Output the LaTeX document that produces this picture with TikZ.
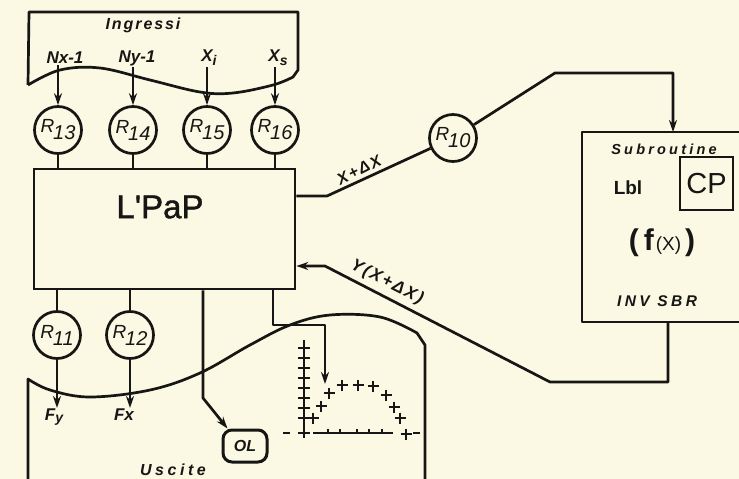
\documentclass[tikz,border=0pt]{standalone}
\usepackage{fontspec}
\setmainfont{Liberation Sans}
\newfontfamily\lsA[LetterSpace=12]{Liberation Sans}
\newfontfamily\lsB[LetterSpace=22]{Liberation Sans}
\newfontfamily\lsC[LetterSpace=12]{Liberation Sans}
\newfontfamily\semib[FakeBold=1.2]{Liberation Sans}
\usetikzlibrary{arrows.meta}
\definecolor{paper}{RGB}{251,248,227}
\definecolor{ink}{RGB}{22,22,20}
\newcommand\regtxt[1]{{\fontsize{19}{19}\selectfont\itshape R}\kern-1pt\raisebox{-7pt}{\fontsize{20}{20}\selectfont\itshape #1}}
\begin{document}
\begin{tikzpicture}[x=1pt,y=-1pt,color=ink,
 ln/.style={draw=ink,line width=2.7pt,line join=round},
 arr/.style={ln,-{Stealth[length=12pt,width=8pt]}},
 reg/.style={circle,draw=ink,line width=2.7pt,minimum size=47pt,inner sep=0pt},
 cross/.style={draw=ink,line width=1.4pt},
 lab/.style={inner sep=1pt,font=\bfseries\itshape\fontsize{17}{17}\selectfont},
 title/.style={inner sep=1pt,font=\lsB\bfseries\itshape\fontsize{15}{15}\selectfont},
]
\useasboundingbox[fill=paper] (0,0) rectangle (739,479);

% Ingressi
\draw[ln] (28,85) -- (29,12) -- (298,12) -- (298,70) -- plot[smooth,tension=0.6] coordinates {(293,77) (273,85) (233,93) (200,92) (150,80) (100,68) (60,70) (28,85)};
\node[inner sep=1pt,font=\lsA\bfseries\itshape\fontsize{16}{16}\selectfont] (ingr) at (143,25) {Ingressi};
\node[lab] (nx) at (65,58) {Nx-1};
\node[lab] (ny) at (137,58) {Ny-1};
\node[lab] (xi) at (209,58) {X\raisebox{-4pt}{\fontsize{14}{14}\selectfont i}};
\node[lab] (xs) at (278,58) {X\raisebox{-4pt}{\fontsize{14}{14}\selectfont s}};

% registers
\node[reg] (r13) at (58,130) {\regtxt{13}};
\node[reg] (r14) at (133,130) {\regtxt{14}};
\node[reg] (r15) at (207,130) {\regtxt{15}};
\node[reg] (r16) at (275,130) {\regtxt{16}};
\node[reg] (r10) at (453,138) {\regtxt{10}};
\node[reg] (r11) at (57,335) {\regtxt{11}};
\node[reg] (r12) at (130,335) {\regtxt{12}};

% main box
\node[draw=ink,line width=2.7pt,minimum width=261pt,minimum height=120pt,inner sep=0pt] (lpap) at (164.5,229) {};
\node[font=\semib\fontsize{33}{33}\selectfont] (lpaptxt) at (160,207) {L\textquotesingle PaP};

\foreach \r/\l in {r13/nx,r14/ny,r15/xi,r16/xs} {
  \draw[arr] (\r.north |- \l.south) -- (\r.north);
  \draw[ln] (\r.south) -- (\r.south |- lpap.north);
}

% subroutine
\coordinate (subtop) at (673,132);
\coordinate (subbot) at (668,322);
\draw[ln] (745,132) -- (582,132) -- (582,322) -- (745,322);
\node[title,font=\lsB\bfseries\itshape\fontsize{14.5}{14.5}\selectfont] (subt) at (664,149) {Subroutine};
\node[font=\bfseries\fontsize{19}{19}\selectfont] (lbl) at (628,188) {Lbl};
\node[draw=ink,line width=2.4pt,minimum width=53pt,minimum height=53pt,inner sep=0pt,font=\fontsize{29}{29}\selectfont] (cp) at (706.5,183.5) {CP};
\node (fx) at (662,243) {\fontsize{30}{30}\selectfont\bfseries(\kern5pt f\kern2pt{\mdseries\fontsize{19}{19}\selectfont(X)}\kern4pt)};
\node[title,font=\lsB\bfseries\itshape\fontsize{15.5}{15.5}\selectfont] (inv) at (657,301) {INV SBR};

% links to subroutine
\draw[ln] (lpap.east |- 0,196) -- (327,196) -- (r10);
\draw[arr] (r10) -- (555,73) -- (673,73) -- (subtop);
\draw[arr] (subbot) -- (668,382) -- (550,382) -- (325,266) -- (lpap.east |- 0,266);
\node[rotate=27,inner sep=1pt,font=\lsC\bfseries\itshape\fontsize{16}{16}\selectfont] (xdx) at (359,170) {X+ΔX};
\node[rotate=-27,inner sep=1pt,font=\lsC\bfseries\itshape\fontsize{17}{17}\selectfont] (ydx) at (387,282) {Y(X+ΔX)};

% Uscite
\draw[ln] (28,490) -- plot[smooth,tension=0.6] coordinates {(28,379) (50,390) (90,397) (150,390) (200,373) (250,345) (290,325) (330,315) (380,317) (417,333)} -- (425,345) -- (425,490);
\node[title,font=\lsB\bfseries\itshape\fontsize{16}{16}\selectfont] (usc) at (173,470) {Uscite};
\node[lab,anchor=north] (fy) at (54,408) {F\raisebox{-2pt}{\fontsize{14}{14}\selectfont y}};
\node[lab,anchor=north] (fxl) at (124,408) {Fx};
\draw[ln] (lpap.south -| r11) -- (r11.north);
\draw[ln] (lpap.south -| r12) -- (r12.north);
\draw[arr] (r11.south) -- (r11.south |- fy.north);
\draw[arr] (r12.south) -- (r12.south |- fxl.north);

% OL
\node[draw=ink,line width=3pt,rounded corners=9pt,minimum width=44pt,minimum height=32pt,inner sep=0pt,font=\bfseries\itshape\fontsize{16}{16}\selectfont] (ol) at (245,446) {OL};
\draw[arr] (lpap.south -| 203,0) -- (203,398) -- (ol.135);

% plot
\coordinate (plottip) at (325,384);
\draw[arr] (lpap.south -| 273,0) -- (273,325) -- (325,325) -- (plottip);
\draw[cross,line width=1.8pt] (304,340) -- (304,438);
\foreach \y in {348,358,368,378,388,398,408,418,433} \draw[cross] (298,\y) -- (310,\y);
\draw[cross,line width=1.6pt] (313,433) -- (393,433);
\draw[cross] (283,433) -- (290,433);
\draw[cross] (413,433) -- (420,433);
\foreach \x in {328,340,357,369,382} \draw[cross] (\x,433) -- (\x,429);
\foreach \p in {(313,418),(321,406),(329,393),(342,385),(358,385),(373,386),(386,395),(394,407),(400,418),(406,434)}
  \draw[cross] \p ++(-5.5,0) -- ++(11,0) \p ++(0,-5.5) -- ++(0,11);
\end{tikzpicture}
\end{document}
